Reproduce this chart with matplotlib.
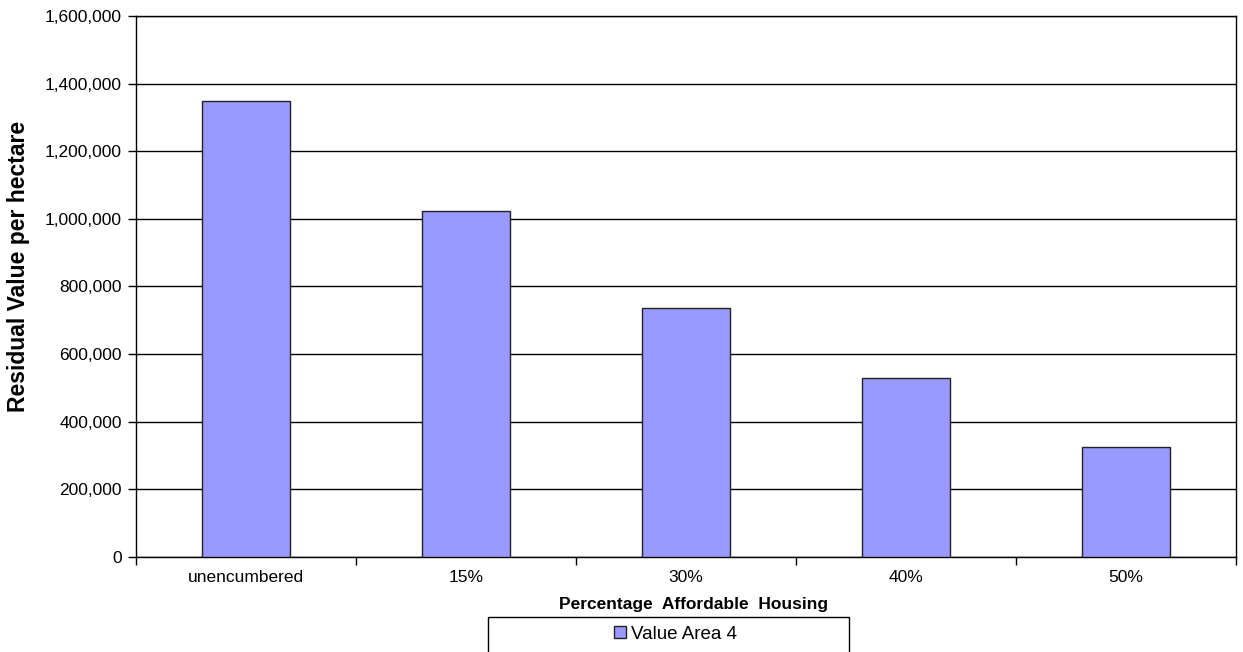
import matplotlib
matplotlib.use('Agg')
import matplotlib.pyplot as plt
import matplotlib.ticker as ticker
from matplotlib.patches import Rectangle
from matplotlib.lines import Line2D

# data
categories = ['unencumbered', '15%', '30%', '40%', '50%']
values = [1350000, 1022000, 736000, 529000, 325000]
series_name = 'Value Area 4'

plt.rcParams['font.family'] = ['Liberation Sans', 'DejaVu Sans']

fig = plt.figure(figsize=(12.43, 6.52), dpi=100)
ax = fig.add_axes([136 / 1243, 1 - 557 / 652, 1100 / 1243, 541 / 652])

x = list(range(len(categories)))
ax.bar(x, values, width=0.4, color='#9999FF', edgecolor='#222222', linewidth=1.0, zorder=3)

ax.set_xlim(-0.5, len(categories) - 0.5)
ax.set_ylim(0, 1600000)
ax.yaxis.set_major_locator(ticker.MultipleLocator(200000))
ax.yaxis.set_major_formatter(ticker.FuncFormatter(lambda v, p: '{:,.0f}'.format(v)))
ax.grid(axis='y', color='black', linewidth=1.0, zorder=0)

# category ticks between bars, labels in the middle
ax.set_xticks([i - 0.5 for i in range(len(categories) + 1)])
ax.set_xticklabels([])
ax.set_xticks(x, minor=True)
ax.set_xticklabels(categories, minor=True, fontsize=12.5)
ax.tick_params(axis='x', which='major', direction='out', length=6, width=1, color='black')
ax.tick_params(axis='x', which='minor', length=0, pad=9)
ax.tick_params(axis='y', direction='out', length=6, width=1, labelsize=12.5, pad=4)

for s in ax.spines.values():
    s.set_color('black')
    s.set_linewidth(1.0)

ax.set_ylabel('Residual Value per hectare', fontsize=16.5, fontweight='bold')
ax.yaxis.label.set_va('center')
ax.yaxis.set_label_coords((19 - 136) / 1100, (557 - 266) / 541)
ax.set_xlabel('Percentage  Affordable  Housing', fontsize=12.5, fontweight='bold')
ax.xaxis.label.set_va('center')
ax.xaxis.set_label_coords((694 - 136) / 1100, -(604 - 557) / 541)

# legend box below the chart
fig.patches.append(Rectangle((488 / 1243, -0.02), 361 / 1243, (652 - 617) / 652 + 0.02,
                             transform=fig.transFigure, facecolor='white',
                             edgecolor='black', linewidth=1.0))
handle = Line2D([], [], linestyle='none', marker='s', markersize=8,
                markerfacecolor='#9999FF', markeredgecolor='#222222', markeredgewidth=1)
fig.legend([handle], [series_name], loc='center', bbox_to_anchor=(675 / 1243, 1 - 634 / 652),
           frameon=False, fontsize=13.5, handlelength=0.8, handletextpad=0.2, borderpad=0)

fig.savefig('out.png', dpi=100)
